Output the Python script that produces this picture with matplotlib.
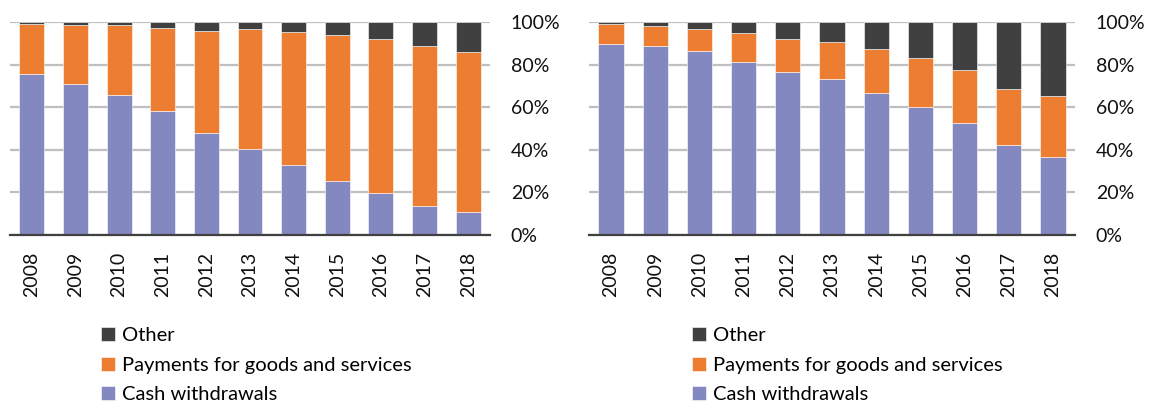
import numpy as np
import matplotlib.pyplot as plt

years = ['2008', '2009', '2010', '2011', '2012', '2013', '2014', '2015',
         '2016', '2017', '2018']

# left panel (shares, %)
left_cash = [75.4, 70.7, 65.6, 58.4, 47.9, 40.6, 32.7, 25.4, 19.6, 13.5, 11.0]
left_payments = [23.8, 27.7, 32.8, 38.9, 48.1, 56.0, 62.7, 68.7, 72.5, 75.3, 75.1]
left_other = [0.8, 1.6, 1.6, 2.7, 4.0, 3.4, 4.6, 5.9, 7.9, 11.2, 13.9]

# right panel (shares, %)
right_cash = [89.7, 88.8, 86.2, 81.1, 76.6, 73.1, 66.6, 60.0, 52.7, 42.3, 36.4]
right_payments = [9.2, 9.4, 10.5, 13.8, 15.6, 17.7, 20.9, 23.2, 24.9, 26.3, 29.0]
right_other = [1.1, 1.8, 3.3, 5.1, 7.8, 9.2, 12.5, 16.8, 22.4, 31.4, 34.6]

labels = ['Cash withdrawals', 'Payments for goods and services', 'Other']
colors = ['#8488c0', '#ed7d31', '#404040']

plt.rcParams['font.family'] = ['Lato', 'DejaVu Sans']

W, H = 1154, 401
fig = plt.figure(figsize=(W / 100, H / 100), dpi=100)


def stacked_panel(left_px, width_px, cash, payments, other, legend_x):
    ax = fig.add_axes([left_px / W, (H - 235) / H, width_px / W, 213 / H])
    x = np.arange(len(years))
    bottom = np.zeros(len(years))
    bars = []
    for vals, col, lab in zip([cash, payments, other], colors, labels):
        b = ax.bar(x, vals, 0.57, bottom=bottom, color=col, label=lab,
                   edgecolor='white', linewidth=0.4, zorder=3)
        bars.append(b)
        bottom = bottom + np.array(vals)
    ax.set_xlim(-0.5, len(years) - 0.5)
    ax.set_ylim(0, 100)
    ax.set_yticks(np.arange(0, 101, 20))
    ax.set_yticklabels([f'{v}%' for v in range(0, 101, 20)])
    ax.yaxis.tick_right()
    ax.set_xticks(x)
    ax.set_xticklabels(years, rotation=90)
    ax.tick_params(axis='both', length=0, labelsize=14, colors='#111111')
    ax.tick_params(axis='y', pad=15)
    ax.tick_params(axis='x', pad=12)
    ax.grid(axis='y', color='#bfbfbf', linewidth=1.6, zorder=0)
    for s in ['top', 'left', 'right']:
        ax.spines[s].set_visible(False)
    ax.spines['bottom'].set_color('#404040')
    ax.spines['bottom'].set_linewidth(1.6)
    ax.spines['bottom'].set_zorder(4)
    fig.legend(handles=bars[::-1], loc='upper left',
               bbox_to_anchor=(legend_x / W, (H - 327) / H),
               frameon=False, fontsize=14.5, handlelength=0.7,
               handleheight=0.7, handletextpad=0.35,
               labelspacing=0.62, borderaxespad=0, borderpad=0)
    return ax


stacked_panel(10, 480, left_cash, left_payments, left_other, 101)
stacked_panel(589, 486, right_cash, right_payments, right_other, 692)

fig.savefig('out.png', dpi=100)
